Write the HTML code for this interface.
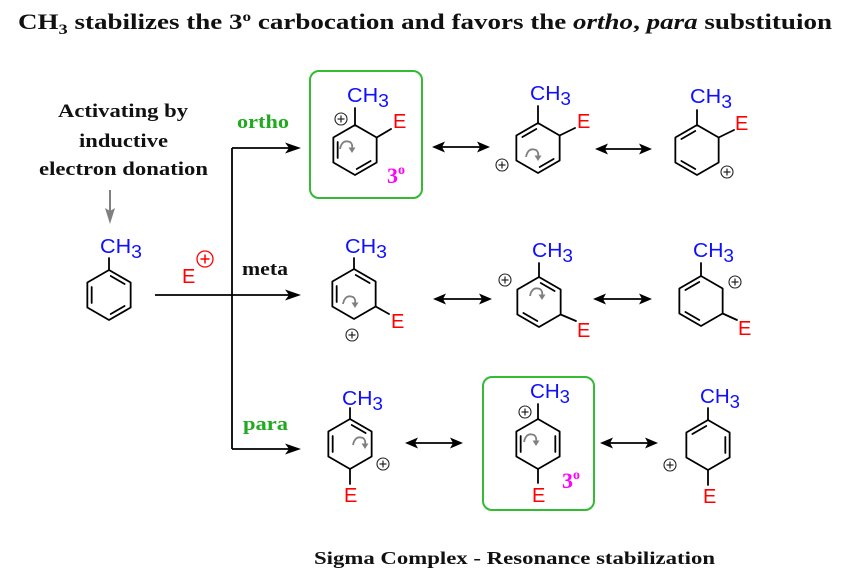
<!DOCTYPE html>
<html>
<head>
<meta charset="utf-8">
<style>
html,body{margin:0;padding:0;background:#fff;}
svg{display:block;}
.b{stroke:#000;stroke-width:1.8;fill:none;stroke-linecap:round;stroke-linejoin:round;}
.ch{font-family:"Liberation Sans",Arial,sans-serif;font-size:20px;fill:#1010ff;}
.e{font-family:"Liberation Sans",Arial,sans-serif;font-size:20px;fill:#ff0000;}
.tb{font-family:"Liberation Serif","Times New Roman",serif;font-weight:bold;fill:#111;}
.g{fill:#1faa1f;}
.t3{font-family:"Liberation Serif","Times New Roman",serif;font-weight:bold;fill:#ff00ff;font-size:22px;}
</style>
</head>
<body>
<svg width="851" height="588" viewBox="0 0 851 588" xmlns="http://www.w3.org/2000/svg">
<defs>
  <polygon id="hex" points="0,-25 21.65,-12.5 21.65,12.5 0,25 -21.65,12.5 -21.65,-12.5" class="b"/>
  <line id="d01" x1="1.73" y1="-19" x2="15.59" y2="-11" class="b"/>
  <line id="d12" x1="17.32" y1="-8" x2="17.32" y2="8" class="b"/>
  <line id="d23" x1="15.59" y1="11" x2="1.73" y2="19" class="b"/>
  <line id="d34" x1="-1.73" y1="19" x2="-15.59" y2="11" class="b"/>
  <line id="d45" x1="-17.32" y1="8" x2="-17.32" y2="-8" class="b"/>
  <line id="d50" x1="-15.59" y1="-11" x2="-1.73" y2="-19" class="b"/>
  <g id="plus">
    <circle cx="0" cy="0" r="6" fill="#fff" stroke="#222" stroke-width="1.1"/>
    <line x1="-3.5" y1="0" x2="3.5" y2="0" stroke="#222" stroke-width="1.2"/>
    <line x1="0" y1="-3.5" x2="0" y2="3.5" stroke="#222" stroke-width="1.2"/>
  </g>
  <g id="curl">
    <path d="M -6,3 Q -4,-7 4,-4 Q 7,-2 6,3" fill="none" stroke="#808080" stroke-width="1.8"/>
    <path d="M 2.5,1.5 L 9.5,1.5 L 6,7 Z" fill="#808080"/>
  </g>
  <g id="dbl">
    <line x1="6" y1="0" x2="-6" y2="0" stroke="#000" stroke-width="1.8"/>
  </g>
</defs>

<!-- Title -->
<text x="18" y="29" class="tb" font-size="22" textLength="814" lengthAdjust="spacingAndGlyphs">CH<tspan font-size="15" dy="5">3</tspan><tspan dy="-5"> stabilizes the 3</tspan><tspan font-size="14" dy="-8">o</tspan><tspan dy="8"> carbocation and favors the </tspan><tspan font-style="italic">ortho</tspan>, <tspan font-style="italic">para</tspan> substituion</text>

<!-- Left label -->
<text x="58" y="117" class="tb" font-size="19" textLength="130" lengthAdjust="spacingAndGlyphs">Activating by</text>
<text x="79" y="147" class="tb" font-size="19" textLength="89" lengthAdjust="spacingAndGlyphs">inductive</text>
<text x="39" y="175" class="tb" font-size="19" textLength="169" lengthAdjust="spacingAndGlyphs">electron donation</text>

<!-- gray arrow -->
<line x1="110" y1="190" x2="110" y2="212" stroke="#808080" stroke-width="2"/>
<path d="M 110,224 L 105,208 L 110,211 L 115,208 Z" fill="#808080"/>

<!-- Toluene -->
<g transform="translate(109,295)">
  <use href="#hex"/><use href="#d01"/><use href="#d23"/><use href="#d45"/>
  <line x1="0" y1="-25" x2="0" y2="-37" class="b"/>
</g>
<text x="100" y="253" class="ch" textLength="42" lengthAdjust="spacingAndGlyphs">CH<tspan dy="5" font-size="18">3</tspan></text>

<!-- E+ reagent -->
<text x="182" y="283" class="e">E</text>
<circle cx="205" cy="259" r="8" fill="none" stroke="#ff0000" stroke-width="1.3"/>
<line x1="200.5" y1="259" x2="209.5" y2="259" stroke="#ff0000" stroke-width="1.5"/>
<line x1="205" y1="254.5" x2="205" y2="263.5" stroke="#ff0000" stroke-width="1.5"/>

<!-- Main arrows -->
<line x1="155" y1="295" x2="290" y2="295" stroke="#000" stroke-width="1.8"/>
<path d="M 301,295 L 285,289.5 L 289,295 L 285,300.5 Z" fill="#000"/>
<line x1="232" y1="148" x2="232" y2="449" stroke="#000" stroke-width="1.8"/>
<line x1="232" y1="148" x2="290" y2="148" stroke="#000" stroke-width="1.8"/>
<path d="M 301,148 L 285,142.5 L 289,148 L 285,153.5 Z" fill="#000"/>
<line x1="232" y1="449" x2="290" y2="449" stroke="#000" stroke-width="1.8"/>
<path d="M 301,449 L 285,443.5 L 289,449 L 285,454.5 Z" fill="#000"/>

<text x="237" y="128" class="tb g" font-size="19" textLength="52" lengthAdjust="spacingAndGlyphs">ortho</text>
<text x="242" y="275" class="tb" font-size="19" textLength="46" lengthAdjust="spacingAndGlyphs">meta</text>
<text x="243" y="430" class="tb g" font-size="19" textLength="45" lengthAdjust="spacingAndGlyphs">para</text>

<!-- Green boxes -->
<rect x="310" y="71" width="112" height="127" rx="9" ry="9" fill="none" stroke="#33bb33" stroke-width="2"/>
<rect x="483" y="377" width="111" height="133" rx="9" ry="9" fill="none" stroke="#33bb33" stroke-width="2"/>

<!-- ORTHO 1 -->
<g transform="translate(355,150)">
  <use href="#hex"/><use href="#d23"/><use href="#d45"/>
  <line x1="0" y1="-25" x2="0" y2="-42" class="b"/>
  <line x1="21.65" y1="-12.5" x2="36" y2="-21" class="b"/>
  <use href="#curl" x="-9" y="-4"/>
</g>
<use href="#plus" x="341" y="119"/>
<text x="347" y="102" class="ch" textLength="42" lengthAdjust="spacingAndGlyphs">CH<tspan dy="5" font-size="18">3</tspan></text>
<text x="393" y="128" class="e">E</text>
<text x="387" y="183" class="t3">3<tspan font-size="14" dy="-9">o</tspan></text>

<!-- ORTHO 2 -->
<g transform="translate(538,148)">
  <use href="#hex"/><use href="#d50"/><use href="#d23"/>
  <line x1="0" y1="-25" x2="0" y2="-42" class="b"/>
  <line x1="21.65" y1="-12.5" x2="37" y2="-20" class="b"/>
  <use href="#curl" x="-6" y="6"/>
</g>
<use href="#plus" x="502" y="165"/>
<text x="530" y="100" class="ch" textLength="41" lengthAdjust="spacingAndGlyphs">CH<tspan dy="5" font-size="18">3</tspan></text>
<text x="577" y="128" class="e">E</text>

<!-- ORTHO 3 -->
<g transform="translate(697,150)">
  <use href="#hex"/><use href="#d50"/><use href="#d34"/>
  <line x1="0" y1="-25" x2="0" y2="-40" class="b"/>
  <line x1="21.65" y1="-12.5" x2="37" y2="-20" class="b"/>
</g>
<use href="#plus" x="727" y="172"/>
<text x="690" y="103" class="ch" textLength="42" lengthAdjust="spacingAndGlyphs">CH<tspan dy="5" font-size="18">3</tspan></text>
<text x="735" y="130" class="e">E</text>

<!-- MOSTLY: double arrows row 1 -->
<g>
  <line x1="438" y1="147" x2="484" y2="147" stroke="#000" stroke-width="1.8"/>
  <path d="M 432,147 L 445,141.5 L 442,147 L 445,152.5 Z" fill="#000"/>
  <path d="M 490,147 L 477,141.5 L 480,147 L 477,152.5 Z" fill="#000"/>
  <line x1="601" y1="149" x2="646" y2="149" stroke="#000" stroke-width="1.8"/>
  <path d="M 595,149 L 608,143.5 L 605,149 L 608,154.5 Z" fill="#000"/>
  <path d="M 652,149 L 639,143.5 L 642,149 L 639,154.5 Z" fill="#000"/>
</g>

<!-- META 1 -->
<g transform="translate(354,294)">
  <use href="#hex"/><use href="#d01"/><use href="#d45"/>
  <line x1="0" y1="-25" x2="0" y2="-36" class="b"/>
  <line x1="21.65" y1="12.5" x2="35" y2="20" class="b"/>
  <use href="#curl" x="-5" y="7"/>
</g>
<use href="#plus" x="352" y="335"/>
<text x="345" y="253" class="ch" textLength="42" lengthAdjust="spacingAndGlyphs">CH<tspan dy="5" font-size="18">3</tspan></text>
<text x="391" y="328" class="e">E</text>

<!-- META 2 -->
<g transform="translate(539,302)">
  <use href="#hex"/><use href="#d01"/><use href="#d34"/>
  <line x1="0" y1="-25" x2="0" y2="-39" class="b"/>
  <line x1="21.65" y1="12.5" x2="37" y2="19" class="b"/>
  <use href="#curl" x="-3" y="-9"/>
</g>
<use href="#plus" x="505" y="280"/>
<text x="532" y="257" class="ch" textLength="41" lengthAdjust="spacingAndGlyphs">CH<tspan dy="5" font-size="18">3</tspan></text>
<text x="577" y="337" class="e">E</text>

<!-- META 3 -->
<g transform="translate(701,301)">
  <use href="#hex"/><use href="#d50"/><use href="#d34"/>
  <line x1="0" y1="-25" x2="0" y2="-38" class="b"/>
  <line x1="21.65" y1="12.5" x2="36" y2="19" class="b"/>
</g>
<use href="#plus" x="735" y="282"/>
<text x="693" y="257" class="ch" textLength="41" lengthAdjust="spacingAndGlyphs">CH<tspan dy="5" font-size="18">3</tspan></text>
<text x="738" y="335" class="e">E</text>

<!-- double arrows row 2 -->
<g>
  <line x1="439" y1="299" x2="486" y2="299" stroke="#000" stroke-width="1.8"/>
  <path d="M 433,299 L 446,293.5 L 443,299 L 446,304.5 Z" fill="#000"/>
  <path d="M 492,299 L 479,293.5 L 482,299 L 479,304.5 Z" fill="#000"/>
  <line x1="599" y1="299" x2="646" y2="299" stroke="#000" stroke-width="1.8"/>
  <path d="M 593,299 L 606,293.5 L 603,299 L 606,304.5 Z" fill="#000"/>
  <path d="M 652,299 L 639,293.5 L 642,299 L 639,304.5 Z" fill="#000"/>
</g>

<!-- PARA 1 -->
<g transform="translate(350,444)">
  <use href="#hex"/><use href="#d01"/><use href="#d45"/>
  <line x1="0" y1="-25" x2="0" y2="-36" class="b"/>
  <line x1="0" y1="25" x2="0" y2="40" class="b"/>
  <use href="#curl" x="9" y="-2"/>
</g>
<use href="#plus" x="383" y="464"/>
<text x="342" y="405" class="ch" textLength="41" lengthAdjust="spacingAndGlyphs">CH<tspan dy="5" font-size="18">3</tspan></text>
<text x="344" y="502" class="e">E</text>

<!-- PARA 2 -->
<g transform="translate(538,444)">
  <use href="#hex"/><use href="#d45"/><use href="#d12"/>
  <line x1="0" y1="-25" x2="0" y2="-40" class="b"/>
  <line x1="0" y1="25" x2="0" y2="39" class="b"/>
  <use href="#curl" x="-8" y="-5"/>
</g>
<use href="#plus" x="525" y="412"/>
<text x="530" y="398" class="ch" textLength="40" lengthAdjust="spacingAndGlyphs">CH<tspan dy="5" font-size="18">3</tspan></text>
<text x="532" y="502" class="e">E</text>
<text x="562" y="488" class="t3">3<tspan font-size="14" dy="-9">o</tspan></text>

<!-- PARA 3 -->
<g transform="translate(708,445)">
  <use href="#hex"/><use href="#d50"/><use href="#d12"/>
  <line x1="0" y1="-25" x2="0" y2="-37" class="b"/>
  <line x1="0" y1="25" x2="0" y2="40" class="b"/>
</g>
<use href="#plus" x="670" y="465"/>
<text x="700" y="403" class="ch" textLength="40" lengthAdjust="spacingAndGlyphs">CH<tspan dy="5" font-size="18">3</tspan></text>
<text x="703" y="503" class="e">E</text>

<!-- double arrows row 3 -->
<g>
  <line x1="411" y1="443" x2="457" y2="443" stroke="#000" stroke-width="1.8"/>
  <path d="M 405,443 L 418,437.5 L 415,443 L 418,448.5 Z" fill="#000"/>
  <path d="M 463,443 L 450,437.5 L 453,443 L 450,448.5 Z" fill="#000"/>
  <line x1="606" y1="443" x2="652" y2="443" stroke="#000" stroke-width="1.8"/>
  <path d="M 600,443 L 613,437.5 L 610,443 L 613,448.5 Z" fill="#000"/>
  <path d="M 658,443 L 645,437.5 L 648,443 L 645,448.5 Z" fill="#000"/>
</g>

<!-- Bottom caption -->
<text x="314" y="564" class="tb" font-size="18" textLength="401" lengthAdjust="spacingAndGlyphs">Sigma Complex - Resonance stabilization</text>
</svg>
</body>
</html>
